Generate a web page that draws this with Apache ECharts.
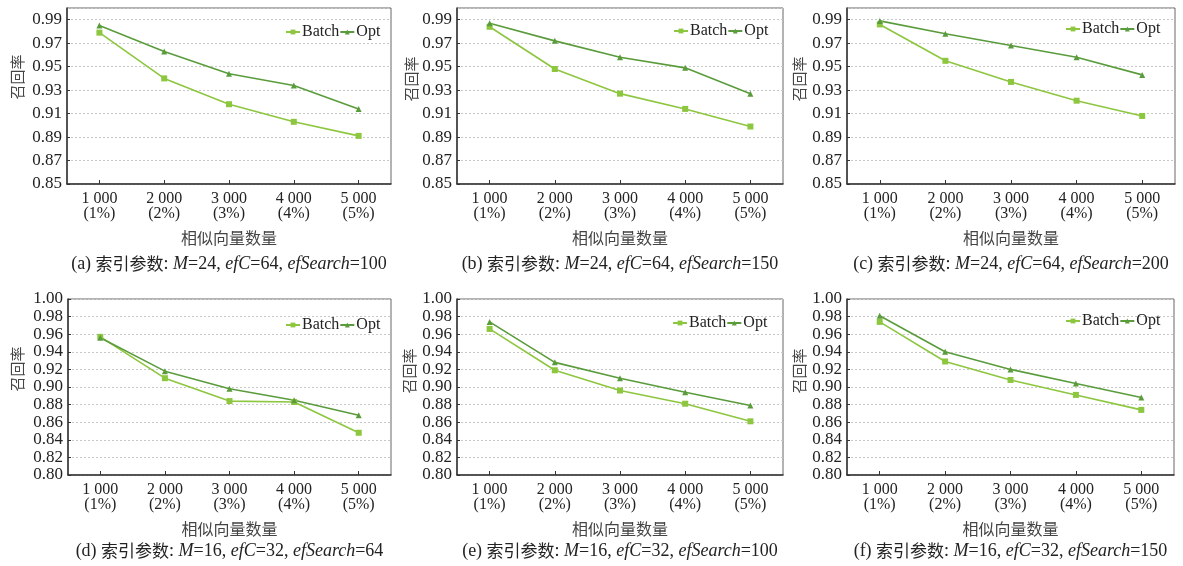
<!DOCTYPE html>
<html>
<head>
<meta charset="utf-8">
<script src="https://cdn.jsdelivr.net/npm/echarts@6/dist/echarts.min.js"></script>
<style>
html,body{margin:0;padding:0;background:#fff;}
#c{width:1183px;height:566px;}
</style>
</head>
<body>
<div id="c"></div>
<script>
// ---- data ----
var categories = ['1 000', '2 000', '3 000', '4 000', '5 000'];
var percents = ['(1%)', '(2%)', '(3%)', '(4%)', '(5%)'];
var seriesNames = ['Batch', 'Opt'];

var batchA = [0.979, 0.940, 0.918, 0.903, 0.891];
var optA   = [0.985, 0.963, 0.944, 0.934, 0.914];
var batchB = [0.984, 0.948, 0.927, 0.914, 0.899];
var optB   = [0.987, 0.972, 0.958, 0.949, 0.927];
var batchC = [0.986, 0.955, 0.937, 0.921, 0.908];
var optC   = [0.989, 0.978, 0.968, 0.958, 0.943];
var batchD = [0.957, 0.910, 0.884, 0.883, 0.848];
var optD   = [0.956, 0.918, 0.898, 0.885, 0.868];
var batchE = [0.966, 0.919, 0.896, 0.881, 0.861];
var optE   = [0.974, 0.928, 0.910, 0.894, 0.879];
var batchF = [0.974, 0.929, 0.908, 0.891, 0.874];
var optF   = [0.981, 0.940, 0.920, 0.904, 0.888];

var topYMin = 0.85, bottomYMin = 0.80, yMax = 1.00, yInterval = 0.02;

var captions = [
  ['(a)', '24', '64', '100'],
  ['(b)', '24', '64', '150'],
  ['(c)', '24', '64', '200'],
  ['(d)', '16', '32', '64'],
  ['(e)', '16', '32', '100'],
  ['(f)', '16', '32', '150']
];
var xName = '相似向量数量';
var yName = '召回率';

// ---- layout ----
var panels = [
  {left: 67,  top: 8,   width: 324, height: 176, ymin: topYMin, b: batchA, o: optA, lx: 285, ly: 24, nx: 17,  ny: 77, cap: 71},
  {left: 457, top: 8,   width: 326, height: 176, ymin: topYMin, b: batchB, o: optB, lx: 673, ly: 23, nx: 411, ny: 79, cap: 71},
  {left: 847, top: 8,   width: 328, height: 176, ymin: topYMin, b: batchC, o: optC, lx: 1065, ly: 21, nx: 799, ny: 79, cap: 71},
  {left: 68,  top: 299, width: 323, height: 176, ymin: bottomYMin, b: batchD, o: optD, lx: 285, ly: 317, nx: 17,  ny: 369, cap: 67},
  {left: 457, top: 299, width: 326, height: 176, ymin: bottomYMin, b: batchE, o: optE, lx: 672, ly: 315, nx: 409, ny: 371, cap: 67},
  {left: 847, top: 299, width: 327, height: 176, ymin: bottomYMin, b: batchF, o: optF, lx: 1065, ly: 313, nx: 799, ny: 371, cap: 67}
];

var serif = "'Liberation Serif', 'Times New Roman', 'Noto Sans CJK SC', serif";
var cjk = "'Noto Sans CJK SC', sans-serif";
var batchColor = '#8dc63f';
var optColor = '#5a9c3c';

var option = {
  animation: false,
  backgroundColor: '#fff',
  grid: [], xAxis: [], yAxis: [], series: [], legend: [], title: [], graphic: []
};

panels.forEach(function (p, i) {
  option.grid.push({
    left: p.left, top: p.top, width: p.width, height: p.height,
    show: true, borderColor: '#666', borderWidth: 1, containLabel: false
  });
  option.xAxis.push({
    type: 'category', gridIndex: i, boundaryGap: true,
    data: categories.map(function (c, k) { return c + '\n' + percents[k]; }),
    axisLine: {lineStyle: {color: '#333', width: 1.5}},
    axisTick: {show: true, inside: true, alignWithLabel: true, length: 4, lineStyle: {color: '#333'}},
    axisLabel: {fontFamily: serif, fontSize: 16, lineHeight: 15, color: '#222', margin: 7},
    splitLine: {show: false},
    name: xName, nameLocation: 'middle', nameGap: 46,
    nameTextStyle: {fontFamily: cjk, fontSize: 16, color: '#444'}
  });
  option.yAxis.push({
    type: 'value', gridIndex: i, min: p.ymin, max: yMax, interval: yInterval,
    axisLine: {show: true, lineStyle: {color: '#333', width: 1.5}},
    axisTick: {show: true, inside: true, length: 3, lineStyle: {color: '#333'}},
    axisLabel: {
      fontFamily: serif, fontSize: 17, color: '#222', margin: 5,
      showMaxLabel: p.ymin === bottomYMin,
      formatter: function (v) { return v.toFixed(2); }
    },
    splitLine: {show: true, lineStyle: {color: '#c8c8c8', type: [2, 2], width: 1}}
  });
  option.series.push({
    name: seriesNames[0], type: 'line', xAxisIndex: i, yAxisIndex: i,
    data: p.b, symbol: 'rect', symbolSize: 6,
    itemStyle: {color: batchColor}, lineStyle: {color: batchColor, width: 1.6}
  });
  option.series.push({
    name: seriesNames[1], type: 'line', xAxisIndex: i, yAxisIndex: i,
    data: p.o, symbol: 'triangle', symbolSize: 6,
    itemStyle: {color: optColor}, lineStyle: {color: optColor, width: 1.6}
  });
  option.legend.push({
    left: p.lx, top: p.ly, orient: 'horizontal', itemGap: 0,
    itemWidth: 14, itemHeight: 6, padding: 0,
    data: seriesNames,
    textStyle: {fontFamily: serif, fontSize: 16, color: '#222', padding: [0, 0, 0, -3]}
  });
  var cap = captions[i];
  option.title.push({
    text: cap[0] + ' {c|索引参数}: {i|M}=' + cap[1] + ', {i|efC}=' + cap[2] + ', {i|efSearch}=' + cap[3],
    left: p.left + p.width / 2, top: p.top + p.height + p.cap, textAlign: 'center', padding: 0,
    textStyle: {
      fontFamily: serif, fontSize: 18, fontWeight: 'normal', color: '#222',
      rich: {
        i: {fontFamily: serif, fontStyle: 'italic', fontSize: 18, color: '#222'},
        c: {fontFamily: cjk, fontSize: 17, color: '#222'}
      }
    }
  });
  option.graphic.push({
    type: 'text', x: p.nx, y: p.ny, rotation: Math.PI / 2,
    style: {text: yName, font: '15px ' + cjk, fill: '#444', align: 'center', verticalAlign: 'middle'}
  });
});

var chart = echarts.init(document.getElementById('c'), null, {renderer: 'canvas'});
chart.setOption(option);
</script>
</body>
</html>
